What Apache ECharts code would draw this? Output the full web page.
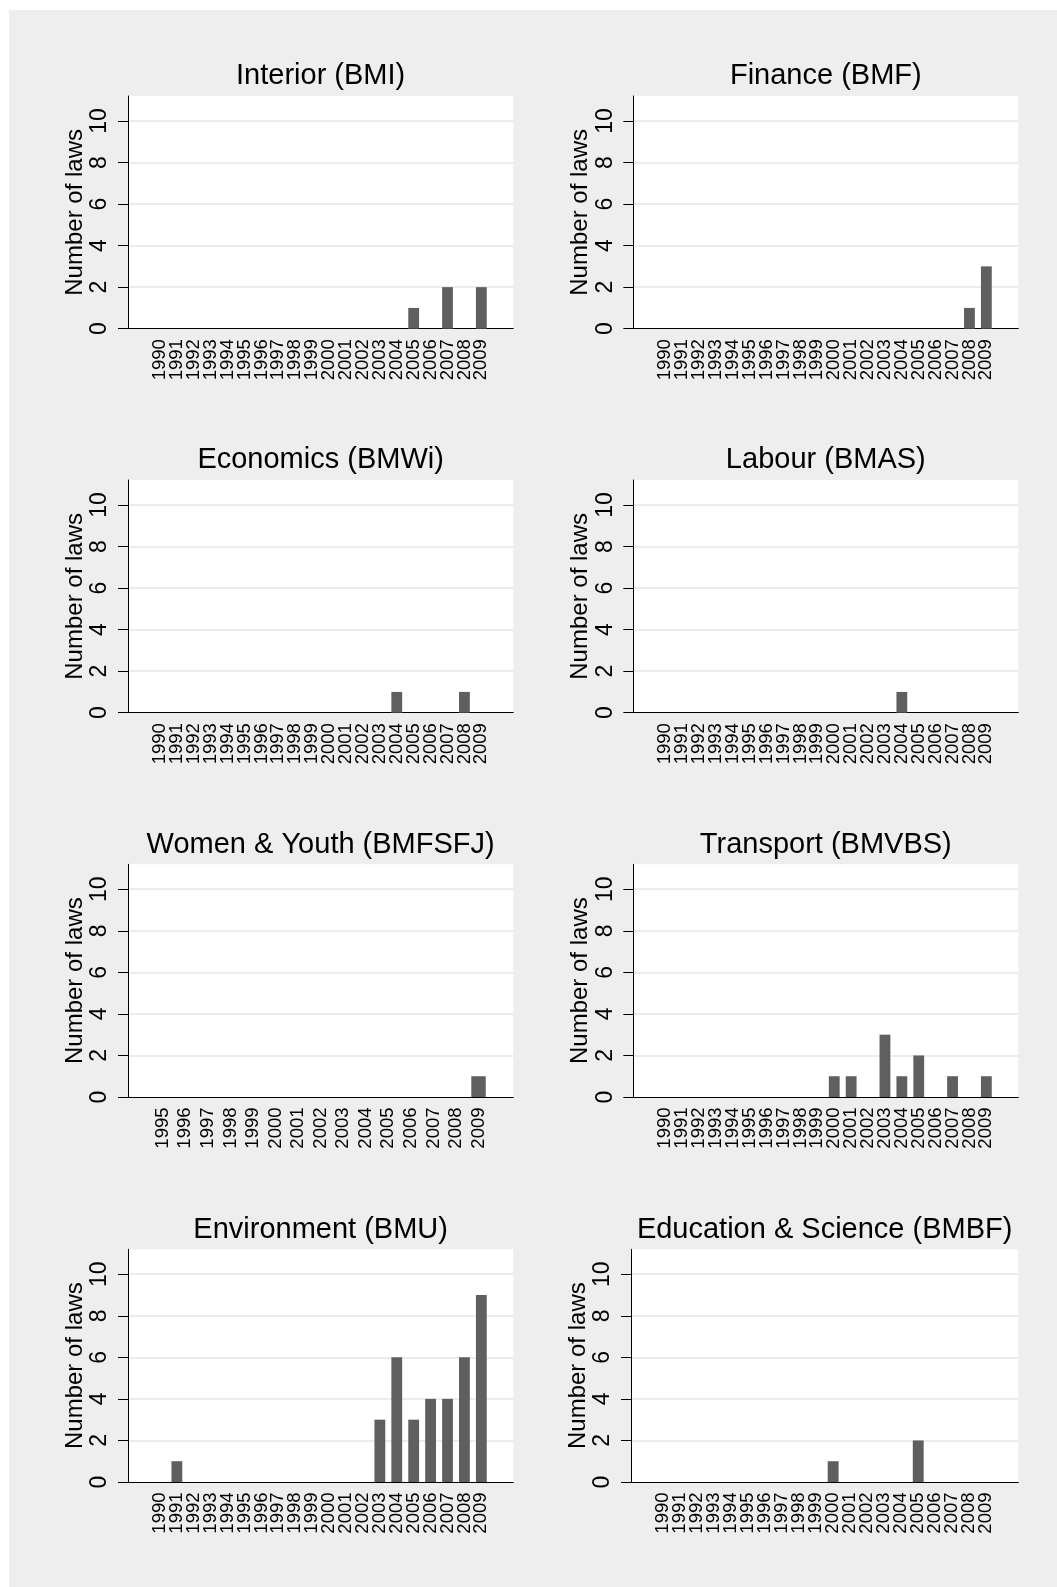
<!DOCTYPE html>
<html>
<head>
<meta charset="utf-8">
<script src="https://cdn.jsdelivr.net/npm/echarts@6/dist/echarts.min.js"></script>
<style>
  html, body { margin: 0; padding: 0; background: #ffffff; }
  #wrap { position: relative; width: 1057px; height: 1587px; background: #ffffff; }
  #chart { position: absolute; left: 9px; top: 10px; width: 1048px; height: 1577px; background: #eeeeee; }
</style>
</head>
<body>
<div id="wrap"><div id="chart"></div></div>
<script>
// ---------- data ----------
const yearsFull = ['1990','1991','1992','1993','1994','1995','1996','1997','1998','1999',
                   '2000','2001','2002','2003','2004','2005','2006','2007','2008','2009'];
const yearsWomen = ['1995','1996','1997','1998','1999','2000','2001','2002','2003','2004',
                    '2005','2006','2007','2008','2009'];
const yTicks = [0, 2, 4, 6, 8, 10];

const interior    = [0,0,0,0,0, 0,0,0,0,0, 0,0,0,0,0, 1,0,2,0,2];
const finance     = [0,0,0,0,0, 0,0,0,0,0, 0,0,0,0,0, 0,0,0,1,3];
const economics   = [0,0,0,0,0, 0,0,0,0,0, 0,0,0,0,1, 0,0,0,1,0];
const labour      = [0,0,0,0,0, 0,0,0,0,0, 0,0,0,0,1, 0,0,0,0,0];
const womenYouth  = [0,0,0,0,0, 0,0,0,0,0, 0,0,0,0,1];
const transport   = [0,0,0,0,0, 0,0,0,0,0, 1,1,0,3,1, 2,0,1,0,1];
const environment = [0,1,0,0,0, 0,0,0,0,0, 0,0,0,3,6, 3,4,4,6,9];
const education   = [0,0,0,0,0, 0,0,0,0,0, 1,0,0,0,0, 2,0,0,0,0];

const panelTitles = ['Interior (BMI)', 'Finance (BMF)', 'Economics (BMWi)', 'Labour (BMAS)',
                     'Women & Youth (BMFSFJ)', 'Transport (BMVBS)', 'Environment (BMU)',
                     'Education & Science (BMBF)'];
const panelYears  = [yearsFull, yearsFull, yearsFull, yearsFull, yearsWomen, yearsFull, yearsFull, yearsFull];
const panelValues = [interior, finance, economics, labour, womenYouth, transport, environment, education];
const yAxisTitle = 'Number of laws';

// ---------- layout ----------
const OX = 9, OY = 10;
const FONT = '"Liberation Sans", Arial, Helvetica, sans-serif';
const YMAX = 11.2;
const panelLeft = [128, 633.3, 128, 633.3, 128, 633.3, 128, 631];
const colRight = [513.3, 1018.3];
const rowTop = [96, 480, 864.3, 1249.3];
const plotH = 232.7;
const PAD = 23.5;
const BAR_COLOR = '#5f5f5f';

const grids = [], xAxes = [], yAxes = [], series = [], titles = [];

panelTitles.forEach((t, i) => {
  const col = i % 2, row = Math.floor(i / 2);
  const L = panelLeft[i] - OX, R = colRight[col] - OX, T = rowTop[row] - OY;
  const Wd = R - L;
  const gA = grids.length, gB = gA + 1, gC = gA + 2;
  const hB = plotH * yTicks[yTicks.length - 1] / YMAX;

  grids.push({ left: L, top: T, width: Wd, height: plotH, show: true, backgroundColor: '#ffffff',
               borderWidth: 0, containLabel: false, outerBoundsMode: 'none' });
  grids.push({ left: L, top: T + plotH - hB, width: Wd, height: hB, containLabel: false, outerBoundsMode: 'none' });
  grids.push({ left: L + PAD, top: T, width: Wd - 2 * PAD, height: plotH, containLabel: false, outerBoundsMode: 'none' });

  // frame axes (grid A)
  xAxes.push({ gridIndex: gA, type: 'value', min: 0, max: 1,
    axisLine: { show: true, onZero: false, lineStyle: { color: '#000', width: 1 } },
    axisTick: { show: false }, axisLabel: { show: false }, splitLine: { show: false } });
  yAxes.push({ gridIndex: gA, type: 'value', min: 0, max: YMAX,
    axisLine: { show: true, onZero: false, lineStyle: { color: '#000', width: 1 } },
    axisTick: { show: false }, axisLabel: { show: false }, splitLine: { show: false },
    name: yAxisTitle, nameLocation: 'middle', nameGap: 41, nameMoveOverlap: false,
    nameTextStyle: { fontSize: 24, color: '#000', fontFamily: FONT } });

  // tick axes (grid B)
  xAxes.push({ gridIndex: gB, type: 'value', min: 0, max: 1, show: false });
  yAxes.push({ gridIndex: gB, type: 'value', min: yTicks[0], max: yTicks[yTicks.length - 1], interval: 2,
    axisLine: { show: false },
    axisTick: { show: true, length: 10, lineStyle: { color: '#000', width: 1 } },
    axisLabel: { show: true, rotate: 90, margin: 16.5, fontSize: 23, color: '#000', fontFamily: FONT },
    splitLine: { show: true, showMinLine: false, showMaxLine: true, lineStyle: { color: '#e6e6e6', width: 1.5 } } });

  // bar axes (grid C)
  xAxes.push({ gridIndex: gC, type: 'category', data: panelYears[i], boundaryGap: true,
    axisLine: { show: false }, axisTick: { show: false }, splitLine: { show: false },
    axisLabel: { show: true, interval: 0, rotate: 90, margin: 10.5, fontSize: 18.5, color: '#000', fontFamily: FONT,
                 hideOverlap: false } });
  yAxes.push({ gridIndex: gC, type: 'value', min: 0, max: YMAX, show: false });

  series.push({ type: 'bar', xAxisIndex: gC, yAxisIndex: gC, data: panelValues[i],
    barWidth: '64%', itemStyle: { color: BAR_COLOR }, silent: true });

  titles.push({ text: t, left: (L + R) / 2, top: T - 9.5 - 0.8465 * 29, textAlign: 'center', padding: 0,
    textStyle: { fontSize: 29, fontWeight: 'normal', color: '#000', fontFamily: FONT } });
});

const chart = echarts.init(document.getElementById('chart'), null, { renderer: 'canvas' });
chart.setOption({
  animation: false,
  backgroundColor: '#eeeeee',
  title: titles,
  grid: grids,
  xAxis: xAxes,
  yAxis: yAxes,
  series: series
});
</script>
</body>
</html>
